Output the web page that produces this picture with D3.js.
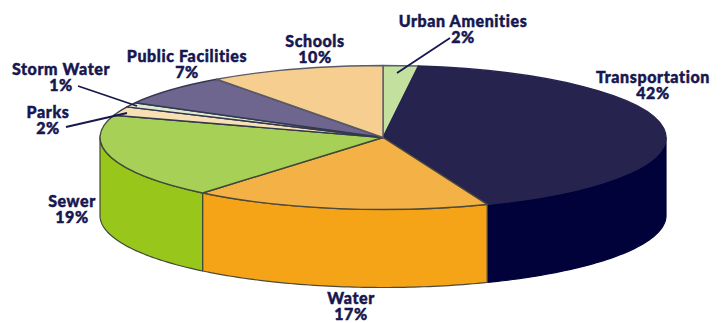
<!DOCTYPE html>
<html>
<head>
<meta charset="utf-8">
<script src="https://cdn.jsdelivr.net/npm/d3@7/dist/d3.min.js"></script>
<style>
  html, body { margin: 0; padding: 0; background: #fff; }
  svg { display: block; }
  text { font-family: Lato, sans-serif; font-weight: 900; fill: #17174f; stroke: #17174f; stroke-width: 0.45; letter-spacing: 0.6px; text-anchor: middle; }
</style>
</head>
<body>
<svg id="chart" width="723" height="323"></svg>
<script>
// Capital budget shares, clockwise from twelve o'clock
const categories = ["Urban Amenities", "Transportation", "Water", "Sewer", "Parks", "Storm Water", "Public Facilities", "Schools"];
const shares = [2, 42, 17, 19, 2, 1, 7, 10];
const topColors = ["#c3e09f", "#26234f", "#f3b146", "#a7d156", "#f9dfb4", "#dcebd0", "#6f6690", "#f6cf90"];
const wallColors = ["#a9cf7c", "#02023a", "#f4a416", "#98c61a", "#e8c48e", "#c4d8b0", "#55507a", "#e6b874"];
const outlineColors = ["#55606a", "#26234f", "#4d4a3c", "#3f4a3a", "#33384f", "#33384f", "#33384f", "#5a5a68"];
const labelX = [463, 653, 351, 72, 48, 61, 187, 315];
const labelY = [27, 83, 303.5, 207, 118, 75, 62, 47];
const leaderStart = [[450, 38], null, null, null, [66, 127], [78, 86], null, null];
const leaderEnd = [[397, 73], null, null, null, [127, 113], [137, 106], null, null];

const cx = 383, cy = 137.5, rx = 283, ry = 72, depth = 78;
const fontSize = 16;
const svg = d3.select("#chart");

const rows = categories.map((name, i) => ({ name, share: shares[i], i }));
const slices = d3.pie().sort(null).value(d => d.share)(rows);

// Angle in d3.arc convention (0 at top, clockwise) to a point on the rim
const rim = (a, dy = 0) => [cx + rx * Math.sin(a), cy - ry * Math.cos(a) + dy];

// Outer wall of a slice: only the part between 3 and 9 o'clock faces the viewer
function wallPath(s) {
  const a0 = Math.max(s.startAngle, Math.PI / 2);
  const a1 = Math.min(s.endAngle, Math.PI * 1.5);
  if (a1 <= a0) return null;
  const steps = d3.range(0, 61).map(k => a0 + (a1 - a0) * k / 60);
  const front = steps.map(a => rim(a));
  const back = steps.slice().reverse().map(a => rim(a, depth));
  return d3.line()(front.concat(back)) + "Z";
}

svg.append("g").selectAll("path")
  .data(slices.filter(s => wallPath(s)))
  .join("path")
  .attr("d", wallPath)
  .attr("fill", s => wallColors[s.data.i])
  .attr("stroke", s => s.data.i === 1 ? wallColors[1] : outlineColors[s.data.i])
  .attr("stroke-width", 1.2)
  .attr("stroke-linejoin", "round");

// Top face: a circular pie squashed into an ellipse
const arc = d3.arc().innerRadius(0).outerRadius(rx);
svg.append("g")
  .attr("transform", `translate(${cx},${cy}) scale(1,${ry / rx})`)
  .selectAll("path")
  .data(slices)
  .join("path")
  .attr("d", arc)
  .attr("fill", s => topColors[s.data.i])
  .attr("stroke", s => outlineColors[s.data.i])
  .attr("stroke-width", 1.4)
  .attr("stroke-linejoin", "round")
  .attr("vector-effect", "non-scaling-stroke");

// Leader lines for the thin slices
svg.append("g").selectAll("line")
  .data(rows.filter(d => leaderStart[d.i]))
  .join("line")
  .attr("x1", d => leaderStart[d.i][0])
  .attr("y1", d => leaderStart[d.i][1])
  .attr("x2", d => leaderEnd[d.i][0])
  .attr("y2", d => leaderEnd[d.i][1])
  .attr("stroke", "#17174f")
  .attr("stroke-width", 1.8);

// Two-line labels: name, then share
const labels = svg.append("g").selectAll("text")
  .data(rows)
  .join("text")
  .attr("font-size", fontSize);
labels.append("tspan")
  .attr("x", d => labelX[d.i])
  .attr("y", d => labelY[d.i])
  .text(d => d.name);
labels.append("tspan")
  .attr("x", d => labelX[d.i])
  .attr("y", d => labelY[d.i] + fontSize)
  .text(d => d.share + "%");
</script>
</body>
</html>
